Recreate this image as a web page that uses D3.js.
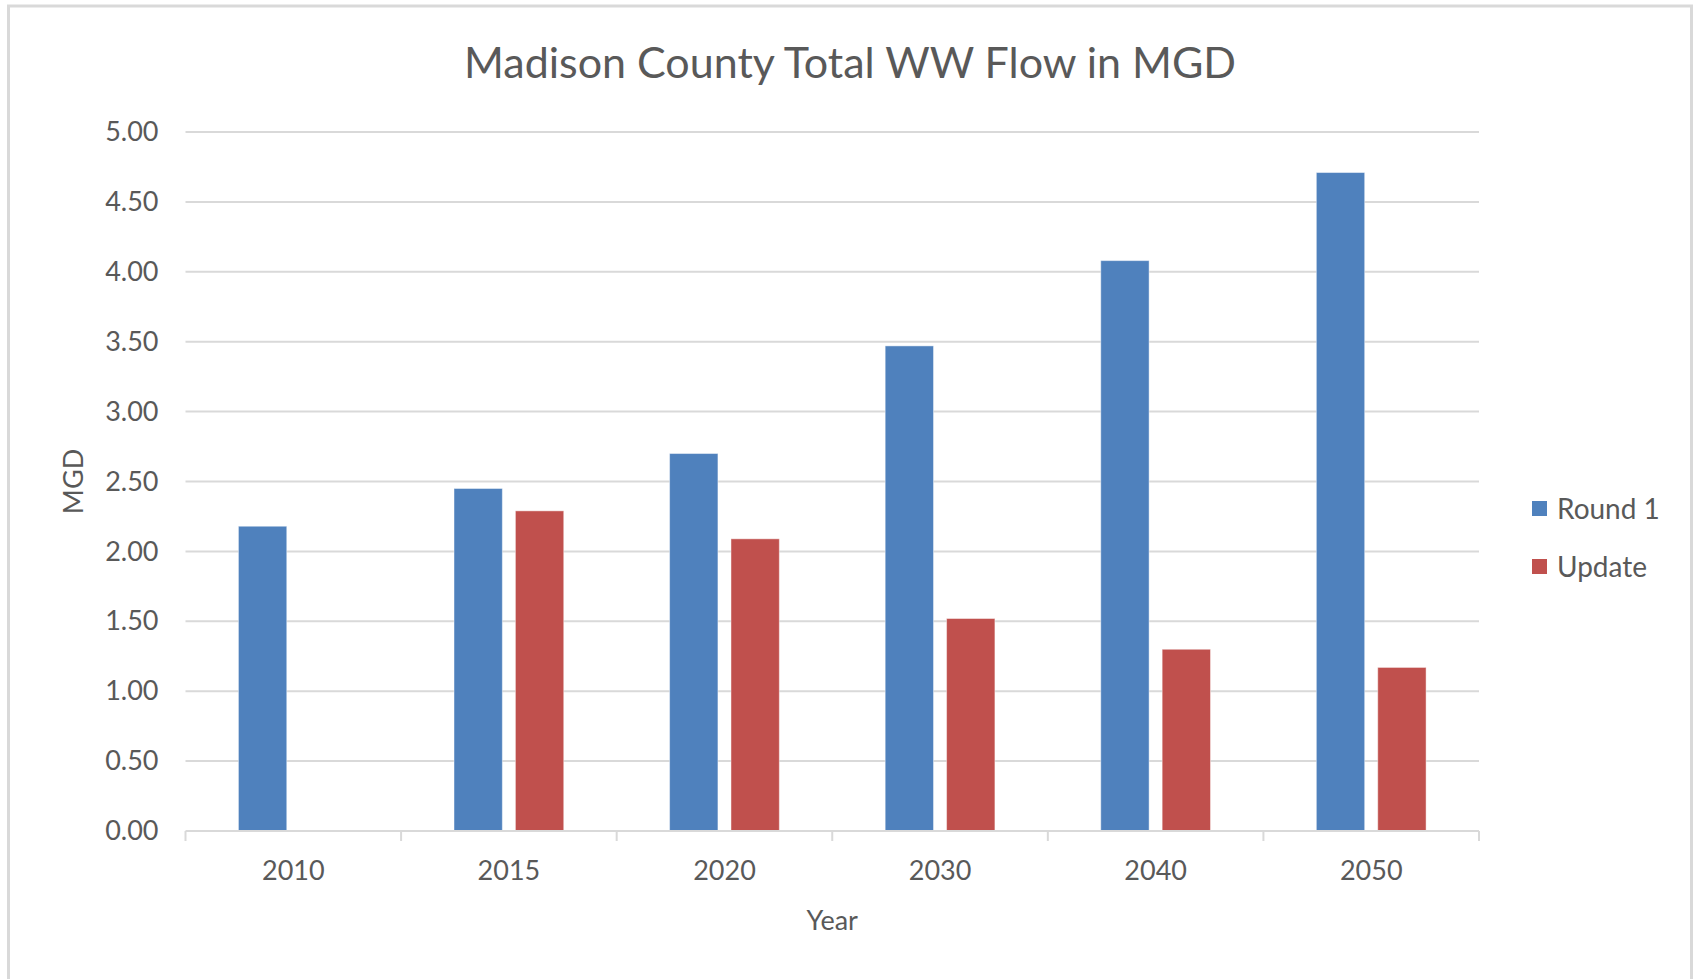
<!DOCTYPE html>
<html>
<head>
<meta charset="utf-8">
<script src="https://cdn.jsdelivr.net/npm/d3@7"></script>
<style>
  html, body { margin: 0; padding: 0; background: #fff; }
  svg { display: block; }
  text { font-family: Lato, "Open Sans", sans-serif; fill: #595959; }
</style>
</head>
<body>
<svg id="chart" width="1694" height="979"></svg>
<script>
const years = ["2010", "2015", "2020", "2030", "2040", "2050"];
const seriesNames = ["Round 1", "Update"];
const round1 = [2.18, 2.45, 2.70, 3.47, 4.08, 4.71];
const update = [null, 2.29, 2.09, 1.52, 1.30, 1.17];
const yTicks = [0, 0.5, 1, 1.5, 2, 2.5, 3, 3.5, 4, 4.5, 5];
const colors = ["#4F81BD", "#C0504D"];
const title = "Madison County Total WW Flow in MGD";
const xTitle = "Year";
const yTitle = "MGD";

const svg = d3.select("#chart");
const plot = { left: 185.5, right: 1479, top: 132, bottom: 831 };

// outer frame
svg.append("rect")
  .attr("x", 8.5).attr("y", 6)
  .attr("width", 1683).attr("height", 990)
  .attr("fill", "#fff").attr("stroke", "#d9d9d9").attr("stroke-width", 3);

const x0 = d3.scaleBand().domain(years).range([plot.left, plot.right]).padding(0);
const x1 = d3.scaleBand().domain(seriesNames).range([0, x0.bandwidth()])
  .paddingInner(0.2126).paddingOuter(0.862);
const y = d3.scaleLinear().domain([0, 5]).range([plot.bottom, plot.top]);

// gridlines
svg.append("g").selectAll("line").data(yTicks.filter(d => d > 0)).join("line")
  .attr("x1", plot.left).attr("x2", plot.right)
  .attr("y1", d => y(d)).attr("y2", d => y(d))
  .attr("stroke", "#d9d9d9").attr("stroke-width", 2);

// y axis labels
const yAxis = d3.axisLeft(y).tickValues(yTicks).tickFormat(d3.format(".2f")).tickSize(0).tickPadding(27);
const gy = svg.append("g").attr("transform", `translate(${plot.left},0)`).call(yAxis);
gy.select(".domain").remove();
gy.selectAll("text").attr("font-size", 27).style("font-family", "Lato, 'Open Sans', sans-serif").attr("fill", "#595959");

// bars
const data = years.map((yr, i) => ({ year: yr, values: [round1[i], update[i]] }));
const groups = svg.append("g").selectAll("g").data(data).join("g")
  .attr("transform", d => `translate(${x0(d.year)},0)`);
groups.selectAll("rect")
  .data(d => d.values.map((v, j) => ({ name: seriesNames[j], v, j })).filter(e => e.v !== null))
  .join("rect")
  .attr("x", d => x1(d.name))
  .attr("width", x1.bandwidth())
  .attr("y", d => y(d.v))
  .attr("height", d => y(0) - y(d.v))
  .attr("fill", d => colors[d.j])
  .attr("stroke", "#ffffff").attr("stroke-opacity", 0.45).attr("stroke-width", 1);

// x axis
const xAxis = d3.axisBottom(x0).tickSize(0).tickPadding(30);
const gx = svg.append("g").attr("transform", `translate(0,${plot.bottom})`).call(xAxis);
gx.select(".domain").remove();
gx.selectAll("text").attr("font-size", 27).style("font-family", "Lato, 'Open Sans', sans-serif").attr("fill", "#595959");
// axis line and boundary ticks
svg.append("line").attr("x1", plot.left).attr("x2", plot.right)
  .attr("y1", y(0)).attr("y2", y(0)).attr("stroke", "#d9d9d9").attr("stroke-width", 2);
const bounds = years.map(d => x0(d)).concat([x0(years[years.length - 1]) + x0.bandwidth()]);
svg.append("g").selectAll("line").data(bounds).join("line")
  .attr("x1", d => d).attr("x2", d => d)
  .attr("y1", y(0)).attr("y2", y(0) + 10)
  .attr("stroke", "#d9d9d9").attr("stroke-width", 2);

// titles
svg.append("text").attr("x", 850).attr("y", 78).attr("text-anchor", "middle")
  .attr("font-size", 43).text(title);
svg.append("text").attr("x", (plot.left + plot.right) / 2).attr("y", 930).attr("text-anchor", "middle")
  .attr("font-size", 27).text(xTitle);
svg.append("text").attr("transform", `translate(83,${(plot.top + plot.bottom) / 2}) rotate(-90)`)
  .attr("text-anchor", "middle").attr("font-size", 27).text(yTitle);

// legend
const legend = svg.append("g").selectAll("g").data(seriesNames).join("g")
  .attr("transform", (d, i) => `translate(1532,${501 + i * 58})`);
legend.append("rect").attr("width", 15).attr("height", 15).attr("fill", (d, i) => colors[i]);
legend.append("text").attr("x", 25).attr("y", 8).attr("dy", "0.35em")
  .attr("font-size", 28).text(d => d);
</script>
</body>
</html>
